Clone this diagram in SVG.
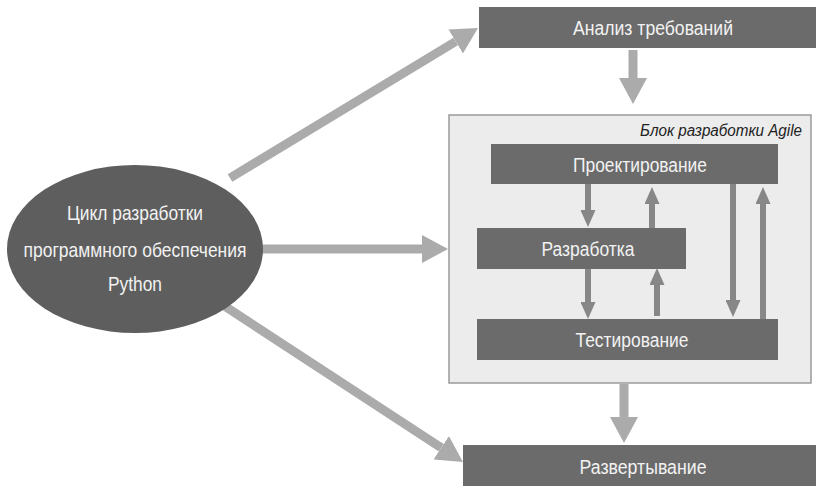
<svg xmlns="http://www.w3.org/2000/svg" width="816" height="486" viewBox="0 0 816 486">
<style>
.box{fill:#6b6b6b}
.lbl{font-family:"Liberation Sans",Arial,sans-serif;fill:#f2f2f2;text-anchor:middle;dominant-baseline:central}
.big{stroke:#ababab;stroke-width:9;fill:none}
.small{stroke:#878787;stroke-width:6;fill:none}
</style>
<defs>
<marker id="hb" markerUnits="userSpaceOnUse" markerWidth="26" markerHeight="28" refX="0" refY="14" orient="auto" viewBox="0 0 26 28"><path d="M0,0 L26,14 L0,28 z" fill="#ababab"/></marker>
<marker id="hs" markerUnits="userSpaceOnUse" markerWidth="17" markerHeight="15" refX="0" refY="7.5" orient="auto" viewBox="0 0 17 15"><path d="M0,0 L17,7.5 L0,15 z" fill="#878787"/></marker>
</defs>
<rect width="816" height="486" fill="#ffffff"/>
<g id="agile">
<rect x="449" y="115" width="362" height="268" fill="#ececec" stroke="#9a9a9a" stroke-width="1.5"/>
<text x="802" y="130" font-family="'Liberation Sans',Arial,sans-serif" font-style="italic" font-size="16" fill="#222" text-anchor="end" dominant-baseline="central" textLength="162" lengthAdjust="spacingAndGlyphs">Блок разработки Agile</text>
</g>
<g id="connectors">
<line class="big" x1="230" y1="178" x2="455.7" y2="41.5" marker-end="url(#hb)"/>
<line class="big" x1="262" y1="249" x2="422" y2="249" marker-end="url(#hb)"/>
<line class="big" x1="223" y1="305" x2="441.2" y2="447.8" marker-end="url(#hb)"/>
<line class="big" x1="633" y1="50" x2="633" y2="78" marker-end="url(#hb)"/>
<line class="big" x1="624" y1="384" x2="624" y2="417" marker-end="url(#hb)"/>
<line class="small" x1="588" y1="184" x2="588" y2="210" marker-end="url(#hs)"/>
<line class="small" x1="652" y1="228" x2="652" y2="204" marker-end="url(#hs)"/>
<line class="small" x1="588" y1="269" x2="588" y2="302" marker-end="url(#hs)"/>
<line class="small" x1="657" y1="316" x2="657" y2="285" marker-end="url(#hs)"/>
<line class="small" x1="733" y1="184" x2="733" y2="300" marker-end="url(#hs)"/>
<line class="small" x1="763" y1="319" x2="763" y2="204" marker-end="url(#hs)"/>
</g>
<g id="cycle">
<ellipse cx="135" cy="249" rx="128" ry="84" fill="#5e5e5e"/>
<text class="lbl" x="135" y="212" font-size="21" textLength="136" lengthAdjust="spacingAndGlyphs">Цикл разработки</text>
<text class="lbl" x="135" y="249" font-size="21" textLength="223" lengthAdjust="spacingAndGlyphs">программного обеспечения</text>
<text class="lbl" x="135" y="283" font-size="21" textLength="54" lengthAdjust="spacingAndGlyphs">Python</text>
</g>
<g id="analysis">
<rect class="box" x="479" y="7" width="337" height="41"/>
<text class="lbl" x="653" y="28" font-size="20" textLength="160" lengthAdjust="spacingAndGlyphs">Анализ требований</text>
</g>
<g id="design">
<rect class="box" x="491" y="144" width="287" height="40"/>
<text class="lbl" x="640" y="165" font-size="20" textLength="134" lengthAdjust="spacingAndGlyphs">Проектирование</text>
</g>
<g id="development">
<rect class="box" x="477" y="228" width="209" height="41"/>
<text class="lbl" x="588" y="249" font-size="20" textLength="93" lengthAdjust="spacingAndGlyphs">Разработка</text>
</g>
<g id="testing">
<rect class="box" x="477" y="319" width="301" height="41"/>
<text class="lbl" x="632" y="340" font-size="20" textLength="113" lengthAdjust="spacingAndGlyphs">Тестирование</text>
</g>
<g id="deployment">
<rect class="box" x="463" y="445" width="353" height="41"/>
<text class="lbl" x="643" y="467" font-size="20" textLength="127" lengthAdjust="spacingAndGlyphs">Развертывание</text>
</g>
</svg>
